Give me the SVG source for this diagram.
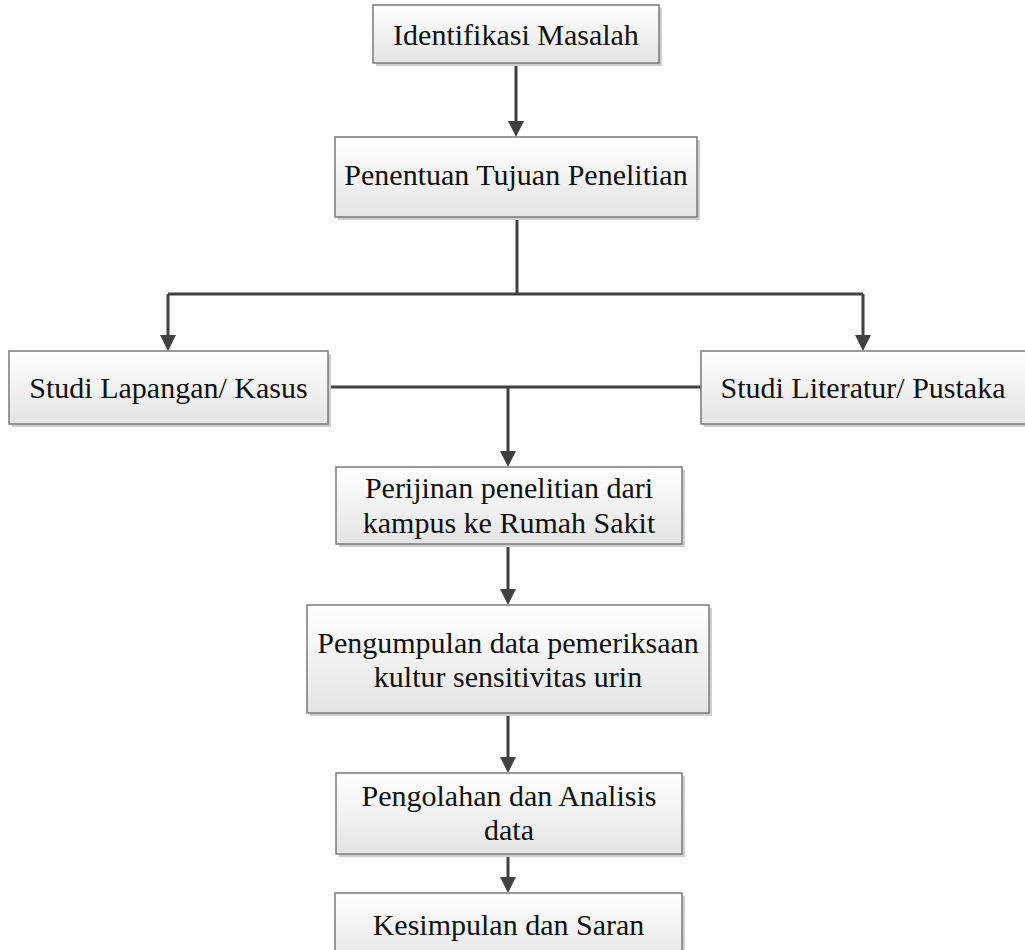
<svg xmlns="http://www.w3.org/2000/svg" width="1025" height="950" viewBox="0 0 1025 950">
<defs>
<linearGradient id="g" x1="0" y1="0" x2="0" y2="1">
<stop offset="0" stop-color="#ffffff"/>
<stop offset="1" stop-color="#e4e4e4"/>
</linearGradient>
<marker id="arr" markerUnits="userSpaceOnUse" markerWidth="16" markerHeight="16" refX="8" refY="8" orient="auto" viewBox="0 0 16 16">
<path d="M0,0 L16,8 L0,16 z" fill="#404040"/>
</marker>
<style>
.sh{fill:#cfcfcf;}
.bx{fill:url(#g);stroke:#7a7a7a;stroke-width:1.5;}
.t{font-family:"Liberation Serif","Times New Roman",serif;font-size:30px;fill:#111;text-anchor:middle;}
.c{fill:none;stroke:#404040;stroke-width:3;}
</style>
</defs>
<rect width="1025" height="950" fill="#ffffff"/>
<g id="connectors">
<path class="c" d="M516 63 V129" marker-end="url(#arr)"/>
<path class="c" d="M517 217 V294"/>
<path class="c" d="M168 294 H863"/>
<path class="c" d="M168 294 V343" marker-end="url(#arr)"/>
<path class="c" d="M863 294 V343" marker-end="url(#arr)"/>
<path class="c" d="M328 387 H701"/>
<path class="c" d="M508 387 V459" marker-end="url(#arr)"/>
<path class="c" d="M508 544 V597" marker-end="url(#arr)"/>
<path class="c" d="M508 713 V765" marker-end="url(#arr)"/>
<path class="c" d="M508 854 V885" marker-end="url(#arr)"/>
</g>
<g id="n1">
<rect class="sh" x="376" y="8" width="286" height="58"/>
<rect class="bx" x="373" y="5" width="286" height="58"/>
<text class="t" x="516" y="45">Identifikasi Masalah</text>
</g>
<g id="n2">
<rect class="sh" x="338" y="140" width="362" height="80"/>
<rect class="bx" x="335" y="137" width="362" height="80"/>
<text class="t" x="516" y="185">Penentuan Tujuan Penelitian</text>
</g>
<g id="n3">
<rect class="sh" x="12" y="354" width="319" height="73"/>
<rect class="bx" x="9" y="351" width="319" height="73"/>
<text class="t" x="168.5" y="398">Studi Lapangan/ Kasus</text>
</g>
<g id="n4">
<rect class="sh" x="704" y="354" width="330" height="73"/>
<rect class="bx" x="701" y="351" width="330" height="73"/>
<text class="t" x="863" y="398">Studi Literatur/ Pustaka</text>
</g>
<g id="n5">
<rect class="sh" x="339" y="470" width="346" height="77"/>
<rect class="bx" x="336" y="467" width="346" height="77"/>
<text class="t" x="509" y="498">Perijinan penelitian dari</text>
<text class="t" x="509" y="533">kampus ke Rumah Sakit</text>
</g>
<g id="n6">
<rect class="sh" x="310" y="608" width="402" height="108"/>
<rect class="bx" x="307" y="605" width="402" height="108"/>
<text class="t" x="508" y="653">Pengumpulan data pemeriksaan</text>
<text class="t" x="508" y="687">kultur sensitivitas urin</text>
</g>
<g id="n7">
<rect class="sh" x="339" y="776" width="346" height="81"/>
<rect class="bx" x="336" y="773" width="346" height="81"/>
<text class="t" x="509" y="806">Pengolahan dan Analisis</text>
<text class="t" x="509" y="840">data</text>
</g>
<g id="n8">
<rect class="sh" x="338" y="896" width="347" height="70"/>
<rect class="bx" x="335" y="893" width="347" height="70"/>
<text class="t" x="508.5" y="935">Kesimpulan dan Saran</text>
</g>
</svg>
